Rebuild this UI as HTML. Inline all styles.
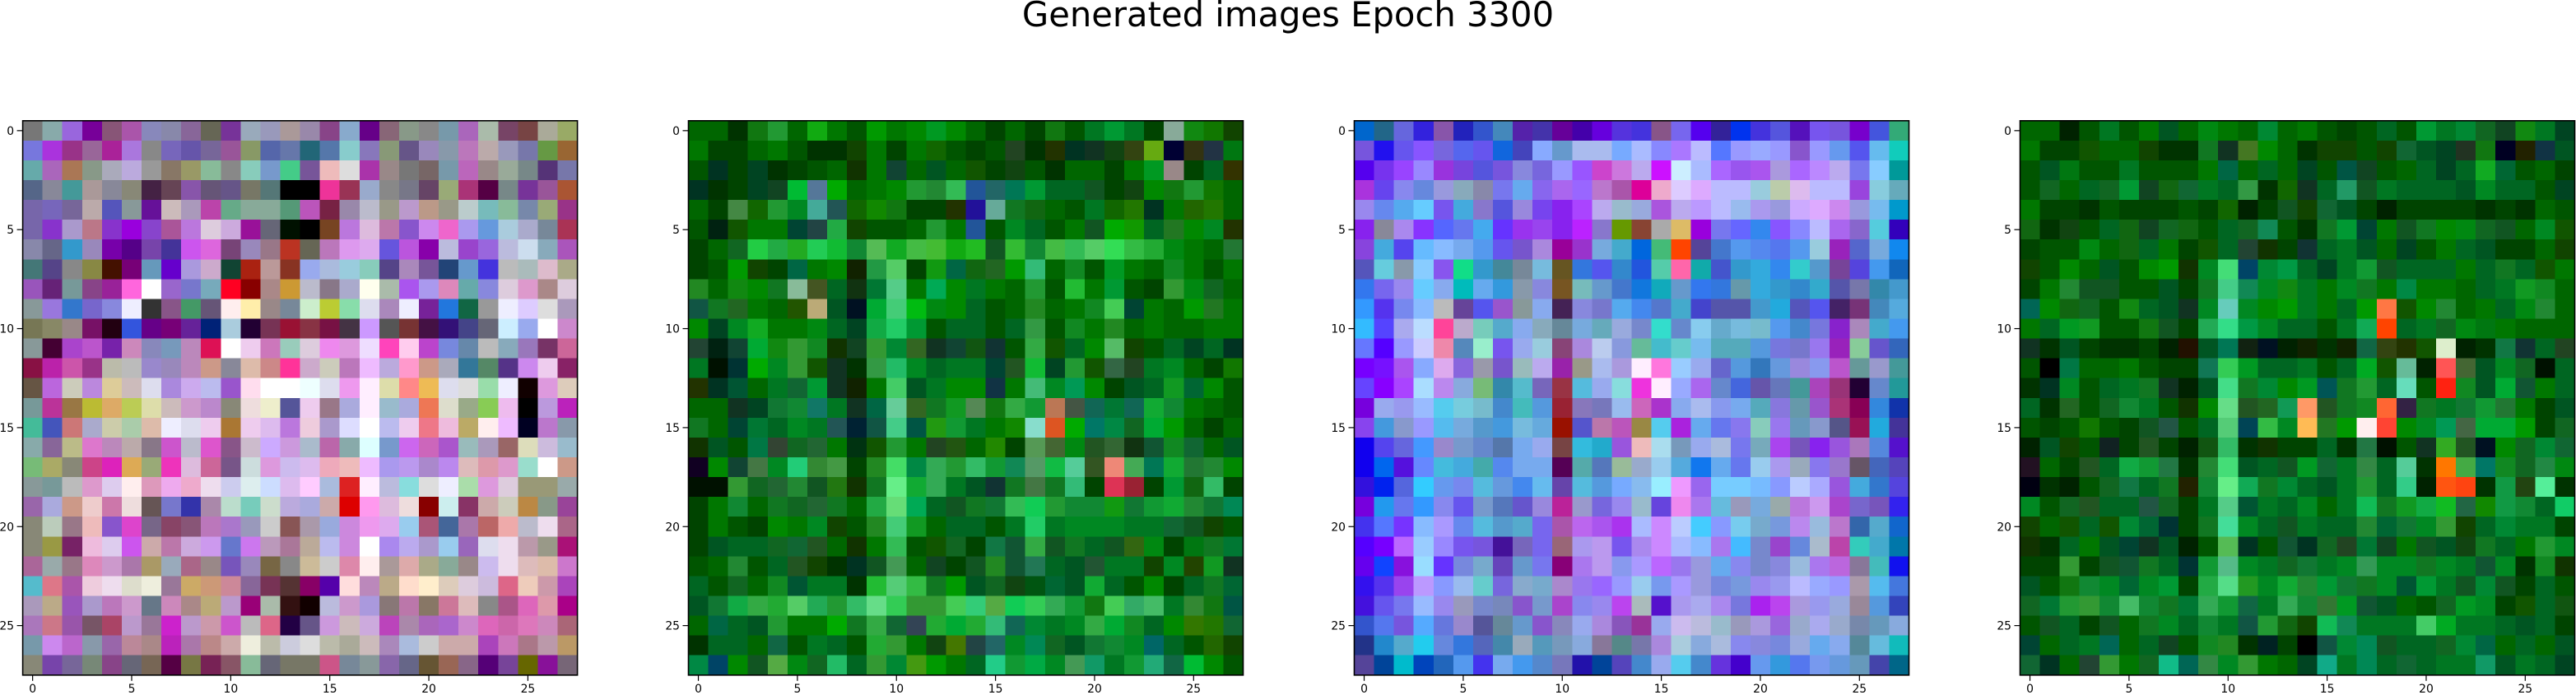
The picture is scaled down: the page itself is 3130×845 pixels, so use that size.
<!DOCTYPE html>
<html><head><meta charset="utf-8"><style>
html,body{margin:0;padding:0;background:#fff;}
svg{display:block;font-family:"DejaVu Sans","Liberation Sans",sans-serif;}
</style></head><body>
<svg id="fig" width="3130" height="845" viewBox="0 0 3130 845" xmlns="http://www.w3.org/2000/svg">
<rect x="0" y="0" width="3130" height="845" fill="#fff"/>
<text x="1565" y="32" text-anchor="middle" font-size="41.7" fill="#000">Generated images Epoch 3300</text>
</svg>
<script>
const tickValues = [0,5,10,15,20,25];
const panelNames = ["image-1","image-2","image-3","image-4"];
const img1 = [
"777 8aa 96d 709 857 a5a 88b 88a 869 665 739 9ab 99b a99 98a 848 8ac 608 867 898 888 79a a6b aba 746 744 aa9 9a6",
"77d a3d 938 969 a29 a7d 888 76b 65a 769 959 896 56a 67a 267 57a 8cc 87b 897 658 98b 89a b7b baa 99b 77a 694 963",
"6aa a6b a75 898 aab bad 999 876 996 8b9 888 8cb 79c 4c8 759 ebb ddd a3a 988 777 766 79a b6b 988 9a9 788 537 77a",
"568 889 499 a99 889 887 424 645 85a 657 658 776 577 000 000 e39 935 9ac 888 778 646 9a7 a37 504 788 739 959 a53",
"76a 76b 769 baa 55b 899 619 cbb a9b b4a 6a8 8a9 8a9 597 b5b 724 98a bbc 998 b9c b98 998 bcc 7bb 8b9 78a 9a7 938",
"76a 83c a9c b78 83c 90d 84c a59 b7d dcd cad 919 667 010 000 742 b7d dbd b7a 85c c8e e6c a9e 69d acd aac 789 a35",
"88a 668 39c 98b 70a 508 74a 439 c5e d6d 747 98b 978 b32 665 b7b d9e dae 65d b5d 80a bbd 94c 96d bbd cde 8ab a5b",
"477 548 888 884 410 707 69b 60c a9d cac 143 a21 b99 832 9ae abd 9cd 8cb 548 a8b 759 247 69c 43d bbb abb dbc aa8",
"95b 627 799 848 929 f6d fff 96c 77c 7ab f02 800 a88 c93 bbc 878 aac ffe aba a5e a9e d8b 6aa 88d dcd d9c a88 dcd",
"899 97d 37c 76c 88d eef 333 858 496 657 fee fea 988 789 cec bc3 8da dde a8b eef 729 27d 164 999 eef dcf ddd a9b",
"775 886 988 716 201 35d 608 707 629 027 acd 203 735 913 834 714 434 c9f 555 733 414 317 448 667 cef 9ae fff c8c",
"899 403 a4c b5c 72a c8b 88b 79b b8b d15 fff ece c7b 9cb dcd e8e d9d edf f4b fce b4c 78d 68a bbb 8ab 97b 736 c69",
"814 b2a c5a 938 bba bbb 98c 98b b8b c98 889 dba c88 f39 cac ccb b7b ebf bad f9c c98 aab 379 586 538 c8e ece 826",
"654 b6d ccb b8d dc9 cbb dde a8d cae bbe 95c fde fff fff eff dde e9e fef dda f88 eb5 dde ddd 9da eef 100 d9d dcb",
"799 b39 974 bb3 da6 bc5 dda cbb c9c b8c 887 edd eec 559 ece 978 aad fef 9bc aad e75 ddc 9a8 8c5 ebe 000 b9d b2b",
"4b9 45b c77 aac cca aca dba eef dde ece a73 ece dbe b7d ecd a9c ddf fff bbe ece e78 ebd ba6 fee ebf 002 b7c 89a",
"8aa 869 bb8 d7c b8b baa 878 c5c bbc d5c 858 cbc caf c9d abc b6a 8aa dff 79c c6e c6b a5c 9bb a9b 966 ddb cbd 9bc",
"7b7 aa6 887 c48 d2b da5 9a7 e3b dbd c69 758 cdd d9d cbe dbe eab ebb ebf a9e b9e a8c b8e dbb d9a d9c 9dc fff c98",
"899 799 bbb d9c dce fee d9b eae eac ede cce dee cdf dbe fcf abd d22 fef bbd 8dd ddd eef ada d9d dcd 997 997 9aa",
"96a aad c98 ecc c7a edd 655 77c 33a a8a bdc 7cb cdc bad aad caa d00 f9e dbd edd 800 cee 836 caa ccb b84 898 949",
"887 bcb 978 ebb 85c d4c 768 846 857 b7b a7c 99b ccc 855 a9a 9ad c8d e9e dae 9ce a57 469 a7a b66 eaa bbc ede a68",
"887 994 726 ebd dce c5e caa b7a cad c9e 67c c7e b9b a79 ba9 bbe c8d fff a8e bae a9c 9ce 96b dde ede b9a 998 a17",
"a69 9aa 978 d8b c9c a7a a96 9ab a68 988 75b 98b 764 888 cb9 ccc d8a fee a99 daa aa8 8a9 988 cbe ede dbb dba c7c",
"5bc d78 a5a ecd ede ddc eed 979 ca6 c97 c89 869 735 533 806 50a fdd b8b ba8 fdc fec dcb dcd cbd d68 ecb c9a a4b",
"a9b ba8 95b a9c b7b c9c 678 c8b a88 ba7 b9c 907 aba 311 100 bbd c9c a9d 877 b7a 876 c79 dbb 888 a58 d6b d9a a08",
"a7b c78 95a 756 a46 b9c 979 c2c b9c c9a c5c bbb d68 204 658 c9d cbb cad b4b a8a a6b a6c c8c d6b c6a d7b c8b a67",
"79a c8e b6c 89a 96a b89 a88 b2b a7a b88 caa eed bba ccd ddd bba aa9 cbb a8b abd ccc caa caa a4b c7b a78 b9a b96",
"887 74a 769 787 848 667 765 504 774 725 856 8b9 667 776 776 c58 789 899 86a 668 653 965 868 507 749 660 819 767"];
const img2 = [
"060 060 030 171 293 060 1a1 070 050 090 070 080 092 080 060 040 060 040 171 050 072 093 072 040 8a9 181 170 140",
"070 040 040 060 070 050 030 030 140 070 040 070 160 050 040 050 242 030 230 032 132 141 341 6a1 003 331 234 071",
"050 032 040 042 030 040 050 060 130 070 143 060 052 060 150 040 141 050 030 060 060 040 070 092 988 040 062 330",
"032 030 040 042 142 0b3 579 0a0 060 070 080 293 283 3b5 259 266 075 093 062 062 152 040 141 080 171 293 170 060",
"060 040 484 160 293 082 4a9 255 160 180 171 040 040 230 219 6a9 172 161 060 050 072 160 270 032 070 260 270 060",
"050 021 150 070 070 043 244 2a4 140 050 050 060 293 070 259 050 082 062 050 070 152 0a0 190 062 272 080 082 230",
"040 060 162 2c4 2a4 2a2 2c5 1b3 183 5b5 1a2 4b4 4b3 1a1 2b2 152 3b3 183 4b4 3b5 5c6 3d5 3b4 2a3 081 070 060 273",
"040 050 090 140 040 064 070 080 120 294 5c6 040 191 064 161 262 090 3b7 060 182 050 092 070 060 182 070 050 070",
"282 060 181 080 172 8b9 452 062 131 073 5c8 070 0a5 080 072 070 060 293 050 2b3 070 093 050 040 393 081 162 060",
"154 172 262 070 060 250 ba7 052 012 0a3 4c7 0b1 081 080 062 050 060 282 060 070 182 4c5 043 070 060 090 272 070",
"080 042 082 1a2 070 070 081 062 042 1a4 2c6 093 050 062 062 050 062 394 050 182 070 282 060 070 060 060 070 070",
"243 021 143 0a3 181 393 182 130 142 393 083 362 132 143 151 133 050 3a4 150 062 080 5b6 140 050 062 042 062 032",
"072 010 033 0a0 082 393 150 132 030 394 2b6 082 062 072 072 043 252 1b3 042 293 150 364 242 072 082 060 040 170",
"230 032 053 060 072 163 093 132 120 070 4c6 052 072 080 080 134 070 4b7 082 095 080 040 052 062 192 063 080 050",
"060 060 132 042 173 183 176 072 132 064 6c9 362 172 192 585 171 3a4 193 b75 454 165 073 165 1a3 183 070 060 050",
"172 060 043 073 062 082 072 255 023 154 4c8 054 291 193 072 070 180 8dc d52 0a0 076 084 162 0a3 090 060 040 060",
"130 052 050 074 343 162 263 070 031 150 293 070 242 251 060 280 040 595 463 081 252 363 131 153 182 163 060 052",
"102 080 143 474 082 2c7 383 494 040 282 4d6 084 3a5 293 3b6 193 185 596 1b4 5c9 352 e87 4a5 075 1a3 273 283 080",
"010 010 393 162 263 283 152 271 130 172 6e8 1a3 3a5 072 052 133 172 474 172 3b7 040 d35 923 040 093 161 3b6 040",
"040 070 183 060 172 162 263 172 060 2a4 6d7 0a5 062 152 172 173 3b5 1c5 293 183 183 191 173 193 1a3 283 173 085",
"040 070 050 040 080 070 082 140 050 282 4c7 192 060 062 062 050 072 2c6 072 082 082 082 072 072 163 152 140 050",
"040 052 062 062 162 163 252 060 130 070 3b5 050 150 162 040 174 153 3a4 152 172 062 152 361 081 040 071 172 073",
"050 060 283 050 062 252 140 030 032 152 495 060 142 040 152 282 153 275 062 052 253 072 072 140 082 240 192 132",
"062 050 162 060 182 053 072 072 030 2b3 5c7 3b4 172 090 052 162 141 051 063 052 1a3 062 050 080 040 062 172 063",
"052 173 1a4 3a4 2a3 5c6 2a5 293 3b6 6d8 3c5 393 393 4c5 3c7 5a4 1c5 3c5 3a5 193 171 4c5 3a6 4b6 072 383 171 054",
"060 064 062 052 293 070 070 0a0 172 3a4 163 345 2a3 0a3 2a3 3b7 165 083 072 082 3a4 0a3 182 062 080 370 270 163",
"030 062 062 060 164 050 072 062 050 2a3 393 070 141 470 244 266 082 085 162 052 173 183 082 066 062 050 260 140",
"084 046 080 152 5a4 081 162 2b6 062 393 083 491 090 070 062 2c8 193 0a4 082 495 196 072 193 2a7 164 0b3 080 050"];
const img3 = [
"06c 268 66d 32d 85a 22b 35c 48b 52a 43a 609 40a 60d 53d 43d 858 76e 50e 329 03e 43d 55d 51b 75e 75d 70c 45d 3a7",
"75d 21e 65e 85f 76d 56e 65e 16d 44b 8af 69c abe abe 7af abf 88f a7f bbf 57f 99f 9af 99f 85c 99f 69e 55e 6be 1cb",
"50e 73e 94f 98f 93d 74d 55d 75d 88d 76d 99f 95f c4c c7d bae c1f cef abf a6f 95e a5e a9d a6f b8f bae 77e 8cf 099",
"a3d 64e 88e 68d 99d 8ab 88a 77e 6ae 86e a6e 96f b7c a5a d09 eac dcf daf bbf bbf 9cd bca dbe bbf bbf 94d 8cd 6ab",
"98e 68e 5ae 6cf 75e 4ad 87c 55d 98d 74e 82e a4f bae 9bc 9ad a5d bae b9f bbf 9be a9e 99d caf daf c8e 99d 7be 09c",
"82e 889 a8e 83f 56f 67e 4ae 63f 93e 94e 82e b2f 87c 690 843 aaa db6 90d 77e 66f 38e 85f 88f bbf a6e 86c 5cd 30b",
"84d 4ad 54e 6bf 8bf 7ae 59e 65e 75c a8d 909 93c 7ad 4ac 06d 4b7 f40 549 47c 59e 58e 57e 59e 9cd 92b 56c 7ad 18e",
"55b 6cd 89a 8cf 85e 1d8 39c 489 789 7bd 652 37d 55e 38c 25d 5ca f6a 1aa 45c 39c 3ad 38e 3cc 59c 749 54d 49e 16b",
"37e 76e 98e 6cf 8ae 0bb 6ae 39d 89a 88d 752 7bb 69c 47c 17d 1ab 69c 37e 37d 69a 3ad 39c 38c 3ac 55a 77a 38a 49c",
"39f 53e 78e 8bf bbb 649 55e 95c 899 8ae 425 88d 77c 5ae 48e 57c 4ac 44c 55a 55a 49c 2ad 55b 55e 426 737 48b 5ad",
"3bf 54f aae bdf f49 bac 7cb 5ac 8ae 8ab 689 7ad 6ab 9ad 78c 3dc 68c 8ce 6ac 7bd 7bc 59e 48c 77d 82c a8b 4ac 49e",
"67f 50f 99f ccf e8a 58b 9ec 75e 9ae 9cd 847 a8d bce 89d 6b9 4bc 6cc 7be 5ab 5ab 59d 77d 77c 97e 92b 8c9 65c 36b",
"70f 71f a5e 8af dae 86d 99a 75c 9bb bae 92a 998 abe a9d fef f7d 9cf 9ae 66c 59d 37b 69d 98d 89e b5c 699 99c 499",
"64f 80f a4f adf b8e 8ad 7b7 38a 5bc 76b 934 5bd 9ae 8dd e3d fef 9af a6e 68c 46d 65a 67b 499 a4b 937 203 68c 299",
"70d 9ae 99e 9bf 5ce 7cd 7bc 48c 4bb 59d 923 87b 77b 9be c6b a3c 8ae abe 89e 7ae 5ab 87d 69a 95c a37 805 38d 13a",
"84e 49d 89c 99f 5be 7ad 59c 49d 7bd 6ad 910 55c b7a b5b 984 5ce a2d 6ae 67e 87e 8cb 97e 69b 89c 558 915 2ad 439",
"10e 54e 66d 49f 98c 79c 68c 57a 7ae 9ae 744 3bd 2ac 95d ebb ade 79b 9ae abd 77e 7ab a4e 75b 82e 95d a7b 58d 51c",
"10e 06e 51d 68f 4bd 4ad 4aa 58e 7ae 7ae 505 5aa 57b 9b9 9ac 9ce 5ad 17e 6ae 67e 9ce a9e 9ab 87e 97c 656 46b 54b",
"31d 02e 56d 3cf 69e 78e 5bd 69d 48e 6be 64a 5bd 59d 7af 8be 9ef e9f 96e 7cf 7cf 7bf 89f bcf aaf 95d 4ad 37c 54d",
"70d 29e 67e 39f 88e 65e 79c 57b 65c 98d b29 99c 76d 98e 9bc 64d e8e a7e 6bd 99b 7ad 9aa b7d c9e a4c 76c 75b 32e",
"43e 57f 73f 8bf a9f 68e 5bd 59c 5ac 76e a5a b6e a5e a3e abf c8f bcf 4cf 89f 7ce 7ac 79d b8e 9bd b7c 36a 5ac 16c",
"50f 70f b6f 9cf 98f 75e 75d 419 76b 76e 967 a9e b9e 75e a8e c8f abf 8bf a7e 4bf 78c 94c 68d abc b4a 3cb 4ac 07a",
"60e 14f 81d 9df 63f 78d 7ac 64b 69c 77e 807 a7e b9e 89e a9f b6f 97e 99d 6ae 88e 78c 88d 9bd a7e b6d 879 4bb 11e",
"31e 53e 94e b9f 89f 9be 6cc 76d 8ac 7ac a8c 97e 96f 99f 9ce 79e a9f 99d 78d 79d 98e 99e bbf 9af 99f a9a 5be 47d",
"41d 65e 77e 9bf 98e 99b 78c 78b 85c 79c a4c 88e 98e b4e abb 51c a9e aae a8e 77d a2e b4e a9d 99e 9ad 989 59d 34b",
"35c 57e 75d 5af 67d 98c 559 689 69c 85c 88b 9ae a8d 85b 939 9ae cbe bbd 9bc 99b a9d 96d 9ac aae 9ac 78a 69b 8ad",
"238 28c 5ac 2ce 68d 37d 56b 48a 9ab 59b 79b 8ad 879 588 77a a8d acd 8ad abd 88e 88d 78d 9ad 6ae 8ae 589 6bd 1bb",
"549 049 0bc 04b 26b 59e 43e 7ae 49e 58c 77b 21a 049 54b 48c 9ae 5ce 48c 63d 40c 69e 39d 57e 79e 69d 69b 44a 068"];
const img4 = [
"060 060 020 050 072 050 070 052 060 081 070 060 083 060 070 050 040 050 062 050 093 072 083 162 142 181 072 042",
"070 040 040 150 060 060 140 030 030 172 132 472 080 060 030 140 140 050 140 163 052 042 232 171 002 220 134 052",
"050 052 071 050 050 072 050 050 050 070 064 060 062 060 042 050 054 142 050 060 062 042 062 1a2 063 050 060 040",
"050 162 060 062 162 093 142 161 163 072 062 394 030 160 132 062 296 152 072 062 062 062 052 082 062 062 050 042",
"070 040 040 030 050 040 040 040 050 040 160 020 040 152 140 163 052 040 020 040 040 040 040 030 040 030 060 050",
"161 030 141 050 062 161 142 162 161 050 062 162 185 050 030 172 093 043 070 152 172 080 081 162 152 060 082 150",
"040 050 050 081 060 161 062 070 040 150 062 243 130 040 133 062 072 052 060 042 050 070 062 052 040 040 060 140",
"140 050 080 060 052 050 080 090 130 082 4d7 046 083 094 062 042 072 193 152 062 062 062 070 062 172 062 150 070",
"040 070 283 152 152 050 050 052 040 172 4c8 185 082 181 072 070 082 172 070 084 070 070 060 062 072 192 182 060",
"065 080 161 162 050 181 062 052 132 082 6cb 082 080 090 072 070 062 090 f74 150 080 283 060 070 062 081 283 060",
"070 062 092 192 050 050 171 152 040 2a5 3d8 094 082 062 062 050 072 1a5 f40 062 072 162 081 071 070 060 060 060",
"132 030 052 040 030 030 040 020 210 052 075 121 012 020 120 030 120 164 341 230 150 dec 020 030 174 133 062 242",
"050 000 074 060 060 070 050 040 040 175 3c5 092 062 062 072 050 062 0a2 150 6b9 020 f55 463 052 082 162 010 062",
"030 032 082 050 062 072 172 132 020 052 4d8 172 083 080 092 055 172 293 062 6db 050 f21 182 052 0a3 153 070 062",
"062 030 262 050 162 183 072 050 130 080 6d8 252 262 195 f96 252 172 182 f63 324 172 072 173 193 273 070 040 052",
"050 040 050 170 050 040 152 254 050 062 5c7 045 3b4 082 fb5 272 090 fee f43 080 082 095 464 0a3 0a3 090 040 162",
"020 052 140 050 122 040 252 040 020 151 3b6 030 130 040 040 062 030 274 010 050 132 3a2 252 012 080 162 083 163",
"212 060 040 252 062 1a4 193 274 030 283 4d7 052 062 152 092 163 072 384 062 5c9 030 f70 4a4 076 182 162 284 081",
"001 030 020 050 162 174 062 172 220 183 6e8 1a5 172 083 062 052 072 293 062 3c8 020 f51 f41 030 194 241 5e9 030",
"082 050 162 252 062 062 254 162 040 072 5c8 053 072 062 082 060 072 1b5 172 192 1a4 1b2 264 180 194 183 062 1c6",
"140 060 150 062 150 083 063 033 040 172 4d9 082 062 152 072 062 062 283 063 173 082 393 140 062 083 072 072 040",
"130 030 062 070 052 043 132 052 020 050 5b5 032 050 153 032 162 242 073 142 070 152 052 141 172 062 070 293 082",
"040 040 393 040 152 153 172 062 033 193 5b8 082 072 162 173 072 082 395 082 082 172 082 072 153 082 030 182 130",
"052 050 171 183 082 063 082 093 040 2a4 5d8 292 082 1a3 283 093 173 172 082 053 093 072 152 083 152 040 062 050",
"162 073 293 393 183 4b6 183 172 073 3a5 193 164 072 3a5 183 373 092 153 052 060 050 162 092 082 040 150 062 151",
"050 152 062 040 152 060 172 082 062 183 072 154 293 161 140 1b5 185 072 072 072 4c6 0a2 072 072 062 052 062 040",
"043 060 062 072 065 060 062 142 050 182 282 030 022 040 000 154 083 085 152 062 062 162 083 064 060 062 060 052",
"163 032 060 243 393 070 162 1b8 065 384 082 393 070 060 042 1a8 072 085 062 163 062 072 072 196 052 072 062 042"];
const images = [img1, img2, img3, img4];

const NS = "http://www.w3.org/2000/svg";
const svg = document.getElementById('fig');
const lefts = [27.6, 836.5, 1645.5, 2454.5];
const top0 = 146.8, size = 674, N = 28;
const cell = size / N;
function mk(tag, attrs){const e=document.createElementNS(NS,tag);for(const k in attrs)e.setAttribute(k,attrs[k]);return e;}

images.forEach((img, p) => {
  const L = lefts[p];
  const g = mk('g', {});
  
  
  svg.appendChild(g);
  const xs = i => L + i * cell;
  const ys = j => top0 + j * cell;
  img.forEach((row, j) => {
    row.split(' ').forEach((c, i) => {
      const r = mk('rect', {x: xs(i).toFixed(2), y: ys(j).toFixed(2), width: (cell+0.6).toFixed(2), height: (cell+0.6).toFixed(2), fill: '#'+c, 'shape-rendering':'crispEdges'});
      
      
      g.appendChild(r);
    });
  });
  const frame = mk('rect', {x: L, y: top0, width: size, height: size, fill: 'none', stroke: '#000', 'stroke-width': 1.6});
  
  
  g.appendChild(frame);
  tickValues.forEach(v => {
    const cx = L + (v + 0.5) * cell;
    const cy = top0 + (v + 0.5) * cell;
    const tx = mk('line', {x1: cx, x2: cx, y1: top0+size, y2: top0+size+7, stroke: '#000', 'stroke-width': 1.2});
    
    
    g.appendChild(tx);
    const lx = mk('text', {x: cx, y: top0+size+21, 'text-anchor': 'middle', 'font-size': 13.9, fill: '#000'});
    lx.textContent = String(v);
    
    
    g.appendChild(lx);
    const ty = mk('line', {x1: L-7, x2: L, y1: cy, y2: cy, stroke: '#000', 'stroke-width': 1.2});
    
    
    g.appendChild(ty);
    const ly = mk('text', {x: L-10.5, y: cy+5, 'text-anchor': 'end', 'font-size': 13.9, fill: '#000'});
    ly.textContent = String(v);
    
    
    g.appendChild(ly);
  });
});
</script>
</body></html>
